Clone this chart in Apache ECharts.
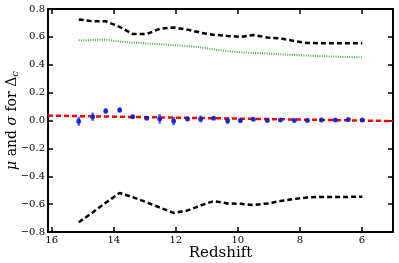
<!DOCTYPE html>
<html><head><meta charset="utf-8">
<script src="https://cdn.jsdelivr.net/npm/echarts@6/dist/echarts.min.js"></script>
<style>html,body{margin:0;padding:0;background:#fff}#c{width:399px;height:263px}</style>
</head><body><div id="c"></div>
<script>
var redshift = [15.13, 14.68, 14.26, 13.81, 13.39, 12.94, 12.52, 12.07, 11.62, 11.20, 10.78, 10.33, 9.92, 9.50, 9.05, 8.63, 8.18, 7.76, 7.31, 6.86, 6.44, 5.99];
var sigmaUpper = [0.725, 0.712, 0.712, 0.672, 0.620, 0.620, 0.658, 0.668, 0.652, 0.630, 0.615, 0.607, 0.600, 0.614, 0.595, 0.590, 0.570, 0.556, 0.554, 0.554, 0.554, 0.554];
var sigmaLower = [-0.730, -0.660, -0.590, -0.520, -0.550, -0.587, -0.624, -0.663, -0.645, -0.610, -0.578, -0.595, -0.598, -0.606, -0.595, -0.578, -0.563, -0.552, -0.548, -0.548, -0.548, -0.547];
var greenCurve = [0.575, 0.577, 0.580, 0.566, 0.558, 0.552, 0.547, 0.540, 0.535, 0.525, 0.510, 0.497, 0.490, 0.485, 0.480, 0.475, 0.470, 0.466, 0.462, 0.458, 0.455, 0.453];
var muValues = [-0.006, 0.027, 0.068, 0.075, 0.027, 0.016, 0.012, -0.004, 0.011, 0.011, 0.016, -0.001, 0.000, 0.009, 0.000, 0.004, 0.000, 0.000, 0.004, 0.004, 0.008, 0.004];
var muErrors = [0.032, 0.030, 0.020, 0.018, 0.012, 0.012, 0.035, 0.030, 0.015, 0.025, 0.012, 0.025, 0.018, 0.012, 0.012, 0.010, 0.010, 0.010, 0.010, 0.010, 0.010, 0.010];
var fitX = [16.12, 5.0];
var fitY = [0.035, -0.004];
var xTicks = [16, 14, 12, 10, 8, 6];

function zip(a, b) { return a.map(function (v, i) { return [v, b[i]]; }); }
var FONT = 'DejaVu Serif';
function yfmt(v) { if (Math.abs(v) < 1e-9) v = 0; var s = v.toFixed(1); return s.replace('-', '\u2212'); }

var chart = echarts.init(document.getElementById('c'), null, {renderer: 'canvas'});
var dashed = [5, 3];
chart.setOption({
  animation: false,
  backgroundColor: '#fff',
  grid: {left: 48, right: 6, top: 9, bottom: 31, containLabel: false, outerBoundsMode: 'none'},
  xAxis: [{
    type: 'value', min: 5, max: 16.12, inverse: true,
    name: 'Redshift', nameLocation: 'middle', nameGap: 14, nameMoveOverlap: false,
    nameTextStyle: {fontFamily: FONT, fontSize: 15, color: '#000'},
    axisLine: {onZero: false, lineStyle: {color: '#000', width: 2}},
    axisTick: {inside: true, length: 5, customValues: xTicks, lineStyle: {color: '#000', width: 1.5}},
    axisLabel: {customValues: xTicks, fontFamily: FONT, fontSize: 10, color: '#000', margin: 3},
    splitLine: {show: false}
  }, {
    type: 'value', position: 'top', min: 5, max: 16.12, inverse: true,
    axisLine: {onZero: false, lineStyle: {color: '#000', width: 2}},
    axisTick: {inside: true, length: 5, customValues: xTicks, lineStyle: {color: '#000', width: 1.5}},
    axisLabel: {show: false}, splitLine: {show: false}
  }],
  yAxis: [{
    type: 'value', min: -0.8, max: 0.8, interval: 0.2,
    name: '{i|\u03bc} and {i|\u03c3} for \u0394{s|c}',
    nameLocation: 'middle', nameGap: 28, nameRotate: 90, nameMoveOverlap: false,
    nameTextStyle: {fontFamily: FONT, fontSize: 14, color: '#000',
      rich: {i: {fontFamily: FONT, fontStyle: 'italic', fontSize: 14, color: '#000'},
             s: {fontFamily: FONT, fontStyle: 'italic', fontSize: 10, color: '#000', padding: [5, 0, 0, 0]}}},
    axisLine: {onZero: false, lineStyle: {color: '#000', width: 2}},
    axisTick: {inside: true, length: 5, lineStyle: {color: '#000', width: 1.5}},
    axisLabel: {formatter: yfmt, fontFamily: FONT, fontSize: 10, color: '#000', margin: 3},
    splitLine: {show: false}
  }, {
    type: 'value', position: 'right', min: -0.8, max: 0.8, interval: 0.2,
    axisLine: {onZero: false, lineStyle: {color: '#000', width: 2}},
    axisTick: {inside: true, length: 5, lineStyle: {color: '#000', width: 1.5}},
    axisLabel: {show: false}, splitLine: {show: false}
  }],
  series: [
    {type: 'line', data: zip(redshift, sigmaUpper), symbol: 'none', lineStyle: {color: '#000', width: 2.5, type: dashed}},
    {type: 'line', data: zip(redshift, sigmaLower), symbol: 'none', lineStyle: {color: '#000', width: 2.5, type: dashed}},
    {type: 'line', data: zip(redshift, greenCurve), symbol: 'none', lineStyle: {color: '#4aa84a', width: 2, type: [1, 1.3]}},
    {type: 'custom', data: redshift.map(function (z, i) { return [z, muValues[i] - muErrors[i], muValues[i] + muErrors[i]]; }),
      renderItem: function (params, api) {
        var p1 = api.coord([api.value(0), api.value(1)]);
        var p2 = api.coord([api.value(0), api.value(2)]);
        return {type: 'line', shape: {x1: p1[0], y1: p1[1], x2: p2[0], y2: p2[1]},
          style: {stroke: '#3050ff', lineWidth: 2.5, opacity: 0.85}};
      }, z: 3},
    {type: 'line', data: zip(fitX, fitY), symbol: 'none', lineStyle: {color: '#ff0000', width: 2.5, type: dashed}, z: 4},
    {type: 'scatter', data: zip(redshift, muValues), symbol: 'circle', symbolSize: 5, itemStyle: {color: '#0010d0'}, z: 5}
  ]
});
</script></body></html>
